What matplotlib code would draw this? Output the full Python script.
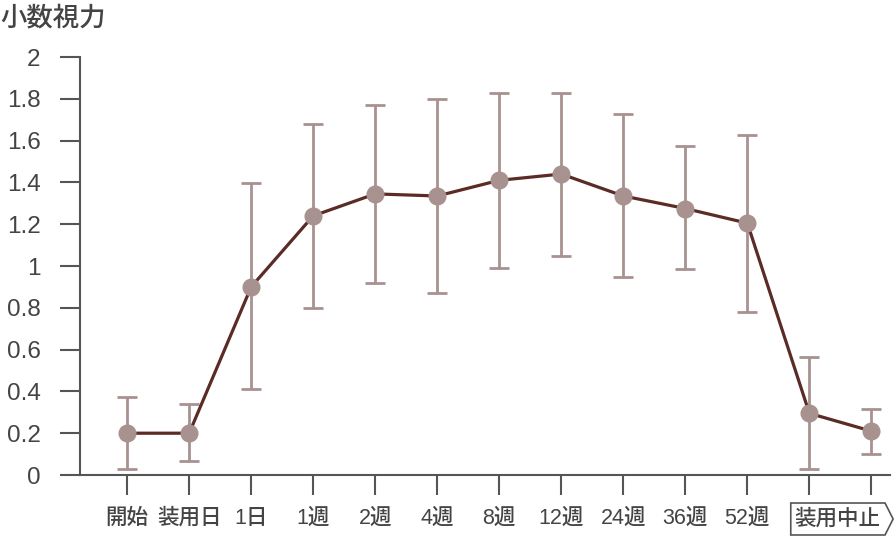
import numpy as np
import matplotlib.pyplot as plt
from matplotlib.patches import Polygon
from matplotlib.transforms import blended_transform_factory

plt.rcParams['font.family'] = ['Liberation Sans', 'Noto Sans CJK JP', 'DejaVu Sans']

# visits (last two points are after stopping wear)
categories = ['開始', '装用日', '1日', '1週', '2週', '4週', '8週', '12週',
              '24週', '36週', '52週', '装用中止', '']
mean_va = [0.20, 0.20, 0.90, 1.24, 1.345, 1.335, 1.41, 1.44, 1.335, 1.275, 1.205, 0.295, 0.21]
upper_va = [0.375, 0.34, 1.395, 1.68, 1.77, 1.80, 1.83, 1.83, 1.725, 1.575, 1.625, 0.565, 0.315]
lower_va = [0.03, 0.067, 0.41, 0.80, 0.92, 0.87, 0.99, 1.048, 0.947, 0.985, 0.78, 0.03, 0.10]
y_ticks = [0, 0.2, 0.4, 0.6, 0.8, 1, 1.2, 1.4, 1.6, 1.8, 2]

line_color = '#5b2b25'
point_color = '#a89290'
axis_color = '#555555'
text_color = '#444444'

x = np.arange(len(categories))
mean = np.array(mean_va)
yerr = np.vstack([mean - np.array(lower_va), np.array(upper_va) - mean])

fig = plt.figure(figsize=(8.96, 5.38), dpi=100)
ax = fig.add_axes([80 / 896, 1 - 475 / 538, 810 / 896, 418 / 538])

ax.errorbar(x, mean, yerr=yerr, fmt='none', ecolor=point_color,
            elinewidth=2, capsize=7, capthick=2, zorder=2)
ax.plot(x, mean, color=line_color, linewidth=2.3, zorder=3)
ax.plot(x, mean, 'o', color=point_color, markersize=12, zorder=4)

ax.set_ylim(0, 2)
ax.set_xlim(-0.76, 12.3)
ax.set_yticks(y_ticks)
ax.set_yticklabels([f'{v:g}' for v in y_ticks])
ax.set_xticks(x)
ax.set_xticklabels(categories[:11] + ['', ''])

for side in ['top', 'right']:
    ax.spines[side].set_visible(False)
for side in ['left', 'bottom']:
    ax.spines[side].set_color(axis_color)
    ax.spines[side].set_linewidth(1.5)

ax.tick_params(axis='y', length=14.5, width=1.5, color=axis_color, pad=14,
               labelsize=17.5, labelcolor=text_color)
ax.tick_params(axis='x', length=14.5, width=1.5, color=axis_color, pad=9,
               labelsize=15.5, labelcolor=text_color)
for lbl in ax.get_xticklabels():
    lbl.set_fontweight('medium')

# boxed label spanning the two post-discontinuation points
trans = blended_transform_factory(ax.transData, ax.transAxes)
x_left, x_right = 10.7, 12.35
y_top, y_bot = -0.067, -0.1435
y_mid = (y_top + y_bot) / 2
box = Polygon([(x_left, y_top), (x_right - 0.13, y_top), (x_right, y_mid),
               (x_right - 0.13, y_bot), (x_left, y_bot)], closed=True,
              facecolor='white', edgecolor=axis_color, linewidth=1.2,
              transform=trans, clip_on=False)
ax.add_patch(box)
ax.text((x[11] + x[12]) / 2 - 0.05, y_mid, categories[11], transform=trans,
        ha='center', va='center', fontsize=15.5, fontweight='medium',
        color=text_color)

fig.text(0.0, 1 - 18 / 538, '小数視力', ha='left', va='center',
         fontsize=19, fontweight='medium', color=text_color)

fig.savefig('out.png', dpi=100)
